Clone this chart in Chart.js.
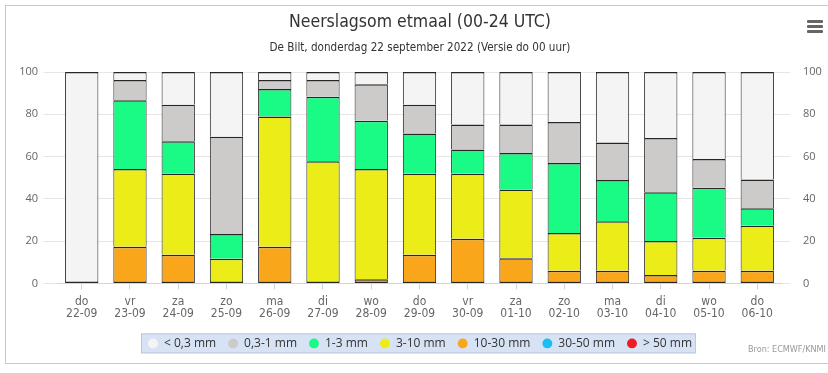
<!DOCTYPE html>
<html>
<head>
<meta charset="utf-8">
<script src="https://cdn.jsdelivr.net/npm/chart.js@4"></script>
<style>
  html, body { margin: 0; padding: 0; background: #fff; overflow: hidden; }
  #frame { position: absolute; left: 5px; top: 5px; width: 840px; height: 357px; border: 1px solid #bccadb; }
  #chart { position: absolute; left: 0; top: 0; }
  #menu { position: absolute; left: 807px; top: 20px; width: 16px; }
  #menu div { height: 3px; background: #666; margin-bottom: 2px; border-radius: 1px; }
  #credit { position: absolute; right: 2px; top: 344px; font: 9px "DejaVu Sans Condensed", sans-serif; color: #999; }
</style>
</head>
<body>
<div id="frame"></div>
<canvas id="chart" width="840" height="373"></canvas>
<div id="menu"><div></div><div></div><div></div></div>
<div id="credit">Bron: ECMWF/KNMI</div>
<script>
// dagen en datums
const days = ['do', 'vr', 'za', 'zo', 'ma', 'di', 'wo', 'do', 'vr', 'za', 'zo', 'ma', 'di', 'wo', 'do'];
const dates = ['22-09', '23-09', '24-09', '25-09', '26-09', '27-09', '28-09', '29-09', '30-09',
               '01-10', '02-10', '03-10', '04-10', '05-10', '06-10'];

// kans (%) per neerslagklasse
const below03 = [100, 3.8, 15.5, 30.6, 3.8, 3.8, 5.8, 15.5, 24.8, 24.8, 23.6, 33.4, 31.2, 41.2, 50.9];
const r03to1 = [0, 9.6, 17.3, 46.0, 4.2, 7.9, 17.3, 13.6, 11.8, 13.5, 19.4, 17.7, 25.7, 13.5, 13.5];
const r1to3 = [0, 32.5, 15.2, 11.7, 13.1, 30.5, 22.8, 19.0, 11.5, 17.3, 33.1, 19.5, 23.1, 23.7, 8.3];
const r3to10 = [0, 36.8, 38.4, 11.7, 61.6, 57.8, 52.1, 38.3, 30.8, 32.5, 17.9, 23.4, 16.0, 15.6, 21.3];
const r10to30 = [0, 17.3, 13.6, 0, 17.3, 0, 2.0, 13.6, 21.1, 11.9, 6.0, 6.0, 4.0, 6.0, 6.0];
const r30to50 = [0, 0, 0, 0, 0, 0, 0, 0, 0, 0, 0, 0, 0, 0, 0];
const above50 = [0, 0, 0, 0, 0, 0, 0, 0, 0, 0, 0, 0, 0, 0, 0];

const yTicks = [0, 20, 40, 60, 80, 100];

const labels = days.map((d, i) => [d, dates[i]]);

// alleen het onderste segment krijgt een onderrand
function segBorder(ctx) {
  const all = ctx.chart.data.datasets;
  let lowest = true;
  for (let k = 0; k < ctx.datasetIndex; k++) {
    if (all[k].data[ctx.dataIndex] > 0) { lowest = false; break; }
  }
  return { top: 1.5, left: 1, right: 1, bottom: lowest ? 1.5 : 0 };
}

function ds(label, data, color) {
  return {
    label: label,
    data: data,
    backgroundColor: color,
    borderColor: '#262626',
    borderWidth: segBorder,
    borderSkipped: false,
    inflateAmount: 0,
    categoryPercentage: 1,
    barPercentage: 0.69
  };
}

// onderste klasse eerst, legenda wordt omgedraaid
const datasets = [
  ds('> 50 mm', above50, '#ee1c25'),
  ds('30-50 mm', r30to50, '#1ebcf5'),
  ds('10-30 mm', r10to30, '#f9a61b'),
  ds('3-10 mm', r3to10, '#ecec18'),
  ds('1-3 mm', r1to3, '#1afb85'),
  ds('0,3-1 mm', r03to1, '#cdcaca'),
  ds('< 0,3 mm', below03, '#f4f4f4')
];

const legendBox = {
  id: 'legendBox',
  beforeDraw(chart) {
    const boxes = chart.legend && chart.legend.legendHitBoxes;
    if (!boxes || !boxes.length) return;
    let l = Infinity, r = -Infinity, t = Infinity, b = -Infinity;
    boxes.forEach(h => {
      l = Math.min(l, h.left); r = Math.max(r, h.left + h.width);
      t = Math.min(t, h.top); b = Math.max(b, h.top + h.height);
    });
    const cy = (t + b) / 2;
    const ctx = chart.ctx;
    ctx.save();
    ctx.fillStyle = '#d7e3f4';
    ctx.strokeStyle = '#b9c9de';
    ctx.lineWidth = 1;
    ctx.fillRect(l - 7, cy - 10, r - l + 11, 20);
    ctx.strokeRect(l - 7 + 0.5, cy - 10 + 0.5, r - l + 10, 19);
    ctx.restore();
  }
};

const tickFont = { family: '"Open Sans", sans-serif', size: 11 };

new Chart(document.getElementById('chart'), {
  type: 'bar',
  data: { labels: labels, datasets: datasets },
  plugins: [legendBox],
  options: {
    responsive: false,
    animation: false,
    layout: { padding: { left: 0, right: 0, top: 0, bottom: 13.6 } },
    plugins: {
      title: {
        display: true,
        text: 'Neerslagsom etmaal (00-24 UTC)',
        color: '#333',
        font: { family: '"DejaVu Sans Condensed", sans-serif', size: 17.5, weight: 'normal', lineHeight: 1.2 },
        padding: { top: 11.5, bottom: 9 }
      },
      subtitle: {
        display: true,
        text: 'De Bilt, donderdag 22 september 2022 (Versie do 00 uur)',
        color: '#333',
        font: { family: '"DejaVu Sans Condensed", sans-serif', size: 11.6, lineHeight: 1.2 },
        padding: { top: 0, bottom: 16.6 }
      },
      legend: {
        position: 'bottom',
        reverse: true,
        labels: {
          usePointStyle: true,
          pointStyle: 'circle',
          boxWidth: 10,
          boxHeight: 7,
          padding: 12,
          color: '#333',
          font: { family: '"Open Sans", sans-serif', size: 12 },
          generateLabels(chart) {
            const items = Chart.defaults.plugins.legend.labels.generateLabels(chart);
            items.forEach(it => { it.strokeStyle = it.fillStyle; it.lineWidth = 0; });
            return items;
          }
        }
      },
      tooltip: { enabled: false }
    },
    scales: {
      x: {
        stacked: true,
        offset: true,
        grid: { display: true, drawOnChartArea: false, offset: false, tickLength: 6, color: '#ccd6eb' },
        border: { color: '#ccd6eb' },
        ticks: { color: '#666', padding: 6, maxRotation: 0, autoSkip: false,
                 font: { family: '"DejaVu Sans Condensed", sans-serif', size: 12, lineHeight: 1.05 } },
        afterFit(s) { s.height = 42; }
      },
      y: {
        stacked: true,
        position: 'left',
        min: 0,
        max: 100,
        afterBuildTicks(s) { s.ticks = yTicks.map(v => ({ value: v })); },
        grid: { color: '#e6e6e6', tickLength: 14 },
        border: { display: false },
        ticks: { color: '#666', padding: 5.6, font: tickFont },
        afterFit(s) { s.width = 57.6; }
      },
      y1: {
        position: 'right',
        min: 0,
        max: 100,
        afterBuildTicks(s) { s.ticks = yTicks.map(v => ({ value: v })); },
        grid: { drawOnChartArea: false, color: '#e6e6e6', tickLength: 9 },
        border: { display: false },
        ticks: { color: '#666', padding: 12.6, font: tickFont },
        afterFit(s) { s.width = 840 - 781.4; }
      }
    }
  }
});
</script>
</body>
</html>
